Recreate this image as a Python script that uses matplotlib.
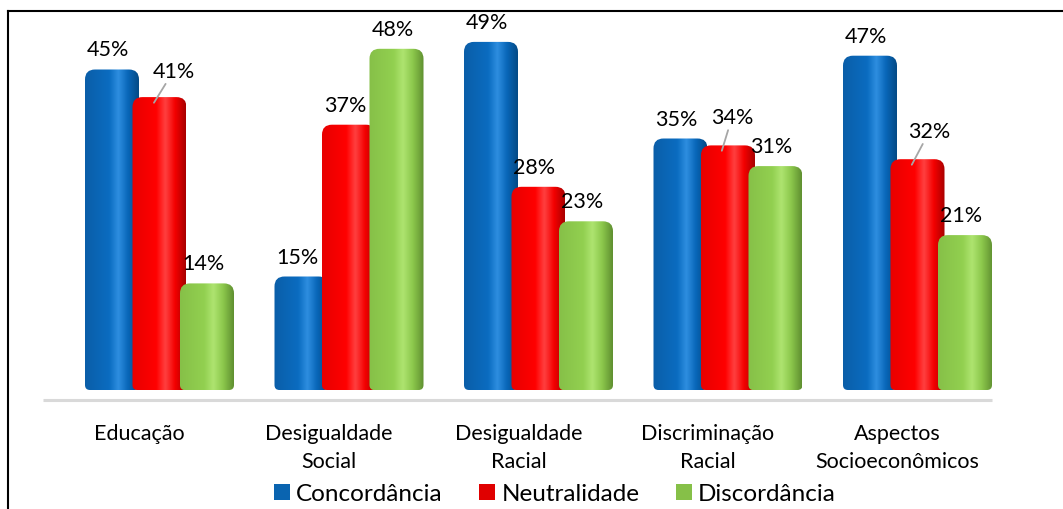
import numpy as np
import matplotlib.pyplot as plt
from matplotlib.path import Path
from matplotlib.patches import PathPatch, Rectangle
from matplotlib.colors import LinearSegmentedColormap
from matplotlib.lines import Line2D

plt.rcParams['font.family'] = ['Lato', 'DejaVu Sans']

categories = ['Educação', 'Desigualdade\nSocial', 'Desigualdade\nRacial',
              'Discriminação\nRacial', 'Aspectos\nSocioeconômicos']
series = ['Concordância', 'Neutralidade', 'Discordância']
concordancia = [45, 15, 49, 35, 47]
neutralidade = [41, 37, 28, 34, 32]
discordancia = [14, 48, 23, 31, 21]
values = [concordancia, neutralidade, discordancia]

# cylinder shading stops per series
shades = [
    ['#0b5ea8', '#0a6cc0', '#2e8ee0', '#0866b8', '#044a85'],
    ['#e80000', '#ff0000', '#ff4040', '#f40000', '#a80000'],
    ['#86c048', '#92d050', '#aee470', '#8cc84c', '#5f8f30'],
]
legend_colors = ['#0a64b0', '#e00000', '#86c048']

W, H = 1063, 510
fig = plt.figure(figsize=(W / 100, H / 100), dpi=100)
ax = fig.add_axes([0, 0, 1, 1])
ax.set_axis_off()

# pixel scale: 189.5 px per group, 6.9 px per percent, zero at 381 px from top
sx, sy = 189.5, 6.9
ax.set_xlim(-159.5 / sx, (W - 159.5) / sx)
ax.set_ylim(-(H - 381) / sy, 381 / sy)

bar_w = 54 / sx
step = 47.5 / sx
depth = 10 / sy  # bars go a bit under zero (3D floor)
rx, ry = 10 / sx, 10 / sy
bx, by = 5 / sx, 5 / sy


def bar_path(x0, x1, y0, y1):
    verts = [(x0, y0 + by), (x0, y1 - ry), (x0, y1), (x0 + rx, y1),
             (x1 - rx, y1), (x1, y1), (x1, y1 - ry), (x1, y0 + by),
             (x1, y0), (x1 - bx, y0), (x0 + bx, y0), (x0, y0), (x0, y0 + by),
             (x0, y0 + by)]
    codes = [Path.MOVETO, Path.LINETO, Path.CURVE3, Path.CURVE3,
             Path.LINETO, Path.CURVE3, Path.CURVE3, Path.LINETO,
             Path.CURVE3, Path.CURVE3, Path.LINETO, Path.CURVE3, Path.CURVE3,
             Path.CLOSEPOLY]
    return Path(verts, codes)


# floor line
ax.plot([-116.5 / sx, 832.5 / sx], [-20 / sy, -20 / sy], color='#d9d9d9',
        lw=2.2, solid_capstyle='butt', zorder=1)

grad = np.linspace(0, 1, 256).reshape(1, -1)
# labels that sit beside the bar with a leader line: (group, series) -> offset px
leader = {(0, 1): (14, 16), (3, 1): (4, 18), (4, 1): (12, 18)}

for s in range(3):
    cmap = LinearSegmentedColormap.from_list(
        series[s], list(zip([0, 0.45, 0.62, 0.8, 1.0], shades[s])))
    for i, v in enumerate(values[s]):
        xc = i + (s - 1) * step
        x0, x1 = xc - bar_w / 2, xc + bar_w / 2
        patch = PathPatch(bar_path(x0, x1, -depth, v), facecolor='none',
                          edgecolor='none', zorder=2 + s)
        ax.add_patch(patch)
        im = ax.imshow(grad, cmap=cmap, extent=[x0, x1, -depth, v],
                       aspect='auto', zorder=2 + s, interpolation='bicubic')
        im.set_clip_path(patch)
        if (i, s) in leader:
            dx, dy = leader[(i, s)]
            ax.annotate(f'{v}%', xy=(xc - 7 / sx, v - 8 / sy),
                        xytext=(dx + 7, dy + 8), textcoords='offset pixels',
                        ha='center', va='bottom', fontsize=15.5, zorder=10,
                        arrowprops=dict(arrowstyle='-', color='#a6a6a6',
                                        lw=1.3, shrinkA=0, shrinkB=2))
        else:
            ax.annotate(f'{v}%', xy=(xc, v), xytext=(-4, 10),
                        textcoords='offset pixels', ha='center', va='bottom',
                        fontsize=15.5, zorder=10)

for i, c in enumerate(categories):
    ax.text(i - 20 / sx, -43 / sy, c, ha='center', va='top', fontsize=15.5,
            linespacing=1.5)

handles = [Rectangle((0, 0), 1, 1, facecolor=c, edgecolor='none')
           for c in legend_colors]
fig.legend(handles, series, loc='center', bbox_to_anchor=(555 / W, 1 - 495 / H),
           ncol=3, frameon=False, fontsize=17.5, handlelength=0.65,
           handleheight=0.65, handletextpad=0.25, columnspacing=1.5,
           borderpad=0)

# outer frame (left and top edges visible)
fig.add_artist(Line2D([7.5 / W, 7.5 / W], [0, 1 - 11.5 / H], color='black',
                      lw=1.5, transform=fig.transFigure))
fig.add_artist(Line2D([7.5 / W, 1], [1 - 11.5 / H, 1 - 11.5 / H],
                      color='black', lw=1.5, transform=fig.transFigure))

fig.savefig('out.png', dpi=100)
